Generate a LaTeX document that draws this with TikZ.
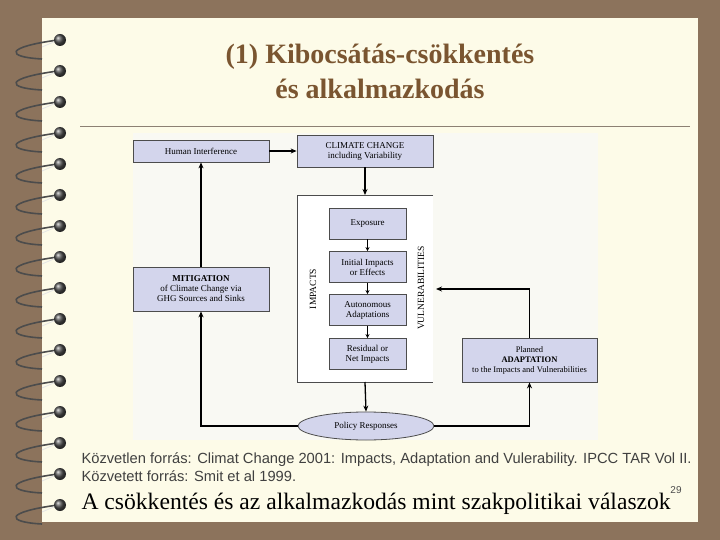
\documentclass[tikz,border=0pt]{standalone}
\usepackage{fontspec}
\setmainfont{Liberation Serif}
\newfontfamily\arial{Liberation Sans}
\usetikzlibrary{arrows.meta,shapes.geometric}
\definecolor{brownbg}{HTML}{8C735C}
\definecolor{paper}{HTML}{FDFBE8}
\definecolor{lav}{HTML}{D3D5EC}
\definecolor{dbg}{HTML}{F9F9F3}
\definecolor{titlec}{HTML}{7A5530}
\tikzset{
 bx/.style={draw=black!70,line width=0.8pt,fill=lav,align=center,inner sep=0pt,font=\fontsize{9}{10}\selectfont},
 arr/.style={-{Stealth[length=6pt,width=5pt]},line width=1.3pt},
 sarr/.style={-{Stealth[length=4pt,width=4pt]},line width=0.8pt},
 ring/.style={line width=1.6pt,draw=black!75}
}
\begin{document}
\begin{tikzpicture}[x=1pt,y=-1pt]
\useasboundingbox (0,0) rectangle (720,540);
\fill[brownbg] (0,0) rectangle (720,540);
\fill[paper] (42,18) rectangle (698,522);
% spiral rings
\foreach \i in {0,...,15}{
 \pgfmathsetmacro\yy{37+31*\i}
 \draw[ring,black!70] (42,\yy+22) .. controls (5,\yy+20) and (5,\yy+10) .. (58,\yy+3);
 \draw[line width=0.8pt,white!80!gray] (42,\yy+10) -- (56,\yy+4);
 \shade[ball color=black!70] (60,\yy+3) circle (6);
}
% title
\node[font=\bfseries\fontsize{28}{30}\selectfont,text=titlec] (t1) at (380,57) {(1) Kibocsátás-csökkentés};
\node[font=\bfseries\fontsize{28}{30}\selectfont,text=titlec] (t2) at (380,89) {és alkalmazkodás};
\draw[gray!80!brown,line width=0.8pt] (80,126) -- (690,126);
% diagram area
\fill[dbg] (133,133) rectangle (598,440);
\node[bx,minimum width=136,minimum height=22] (hi) at (201,151) {Human Interference};
\node[bx,minimum width=136,minimum height=32] (cc) at (365,151) {CLIMATE CHANGE\\including Variability};
\fill[white] (297,195) rectangle (433,382);
\draw[black!70,line width=0.8pt] (433,195) -- (297,195) -- (297,382) -- (433,382);
\coordinate (imptop) at (365,195);
\coordinate (impbot) at (365,382);
\node[bx,minimum width=77,minimum height=31] (ex) at (367.5,223.5) {Exposure};
\node[bx,minimum width=77,minimum height=31] (ii) at (367.5,267) {Initial Impacts\\or Effects};
\node[bx,minimum width=77,minimum height=31] (aa) at (367.5,310) {Autonomous\\Adaptations};
\node[bx,minimum width=77,minimum height=31] (rn) at (367.5,354) {Residual or\\Net Impacts};
\node[rotate=90,font=\fontsize{9.5}{10}\selectfont] (il) at (313,289) {IMPACTS};
\node[rotate=90,font=\fontsize{9.5}{10}\selectfont] (vl) at (421,288) {VULNERABILITIES};
\coordinate (vin) at (436,289);
\node[bx,minimum width=136,minimum height=44] (mi) at (201,289) {\textbf{MITIGATION}\\of Climate Change via\\GHG Sources and Sinks};
\node[bx,minimum width=135,minimum height=44,font=\fontsize{8.5}{10}\selectfont] (pa) at (529.5,360) {Planned\\\textbf{ADAPTATION}\\to the Impacts and Vulnerabilities};
\node[ellipse,draw=black!70,line width=0.8pt,fill=lav,minimum width=136,minimum height=28,inner sep=0pt,font=\fontsize{9}{10}\selectfont] (pr) at (366,426) {Policy Responses};
% arrows
\draw[arr] (hi.east) -- (cc.west);
\draw[arr] (cc.south) -- (imptop);
\draw[sarr] (ex) -- (ii);
\draw[sarr] (ii) -- (aa);
\draw[sarr] (aa) -- (rn);
\draw[arr] (impbot) -- (pr.north);
\draw[arr] (mi.north) -- (hi.south);
\draw[arr] (pr.west) -| (mi.south);
\draw[arr] (pr.east) -| (pa.south);
\draw[arr] (pa.north) |- (vin);
% footer
\node[anchor=west,font=\arial\fontsize{14.7}{16}\selectfont,text=black!75] (s1) at (78,460) {Közvetlen forrás: Climat Change 2001: Impacts, Adaptation and Vulerability. IPCC TAR Vol II.};
\node[anchor=west,font=\arial\fontsize{14.7}{16}\selectfont,text=black!75] (s2) at (78,476) {Közvetett forrás: Smit et al 1999.};
\node[anchor=west,font=\fontsize{23.6}{25}\selectfont] (bt) at (78,504) {A csökkentés és az alkalmazkodás mint szakpolitikai válaszok};
\node[font=\arial\fontsize{10}{11}\selectfont,text=black!70] (pg) at (676,490) {29};
\end{tikzpicture}
\end{document}
